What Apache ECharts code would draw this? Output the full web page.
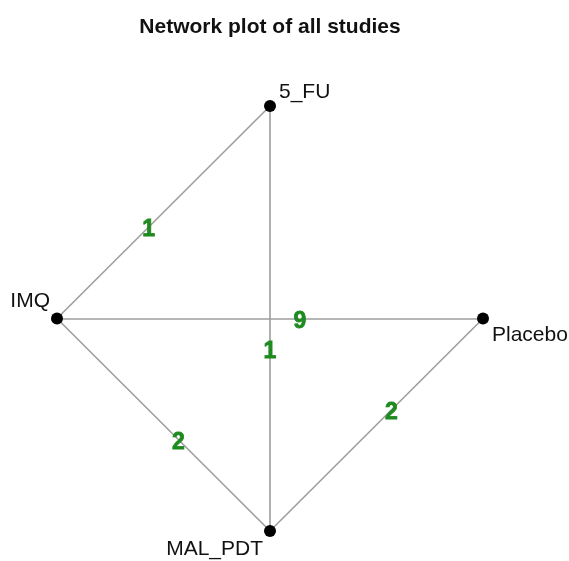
<!DOCTYPE html>
<html lang="en">
<head>
    <meta charset="UTF-8">
    <title>Network plot of all studies</title>
    <style>
        body { margin: 0; background: #fff; }
        #chart { width: 569px; height: 561px; }
    </style>
    <script src="https://cdn.jsdelivr.net/npm/echarts/dist/echarts.min.js"></script>
</head>
<body>
<div id="chart"></div>
<script>
    // treatments placed on a unit circle
    const nodeNames = ['5_FU', 'IMQ', 'Placebo', 'MAL_PDT'];
    const nodeX = [0, -1, 1, 0];
    const nodeY = [1, 0, 0, -1];

    // comparisons: from / to (indexes into nodeNames) and number of studies
    const edgeFrom = [0, 0, 1, 1, 3];
    const edgeTo = [1, 3, 2, 3, 2];
    const edgeStudies = [1, 1, 9, 2, 2];

    const labelAt = 0.57; // where along an edge the study count sits

    // node label placement
    const nodeLabel = {
        '5_FU': { position: 'right', distance: 3, offset: [0, -14] },
        'IMQ': { position: 'left', distance: 1, offset: [0, -17] },
        'Placebo': { position: 'right', distance: 3, offset: [0, 17] },
        'MAL_PDT': { position: 'left', distance: 1, offset: [0, 18] }
    };

    const nodeData = nodeNames.map((n, i) => ({
        name: n,
        value: [nodeX[i], nodeY[i]],
        label: Object.assign({ show: true, formatter: n }, nodeLabel[n])
    }));

    const lineData = edgeFrom.map((f, i) => ({
        coords: [[nodeX[f], nodeY[f]], [nodeX[edgeTo[i]], nodeY[edgeTo[i]]]]
    }));

    const countData = edgeFrom.map((f, i) => {
        const t = edgeTo[i];
        return {
            value: [nodeX[f] + (nodeX[t] - nodeX[f]) * labelAt,
                    nodeY[f] + (nodeY[t] - nodeY[f]) * labelAt],
            label: { formatter: String(edgeStudies[i]) }
        };
    });

    const chart = echarts.init(document.getElementById('chart'));
    chart.setOption({
        animation: false,
        title: {
            text: 'Network plot of all studies',
            left: 265,
            textAlign: 'center',
            top: 12,
            textStyle: { fontFamily: 'Liberation Sans', fontSize: 21, fontWeight: 'bold', color: '#111' }
        },
        grid: { left: 57, top: 106, width: 426, height: 425 },
        xAxis: { type: 'value', min: -1, max: 1, show: false },
        yAxis: { type: 'value', min: -1, max: 1, show: false },
        series: [
            {
                type: 'lines',
                coordinateSystem: 'cartesian2d',
                data: lineData,
                lineStyle: { color: '#9e9e9e', width: 1.6, opacity: 1 },
                z: 1
            },
            {
                type: 'scatter',
                data: countData,
                symbolSize: 0,
                itemStyle: { opacity: 1 },
                label: {
                    show: true,
                    position: 'inside',
                    offset: [0, 3],
                    color: '#1f8a1f',
                    textBorderColor: '#1f8a1f',
                    textBorderWidth: 0.8,
                    fontFamily: 'Liberation Sans',
                    fontSize: 23,
                    fontWeight: 'bold'
                },
                z: 2
            },
            {
                type: 'scatter',
                data: nodeData,
                symbol: 'circle',
                symbolSize: 12,
                itemStyle: { color: '#000', opacity: 1 },
                label: {
                    color: '#111',
                    fontFamily: 'Liberation Sans',
                    fontSize: 21
                },
                z: 3
            }
        ]
    });
</script>
</body>
</html>
